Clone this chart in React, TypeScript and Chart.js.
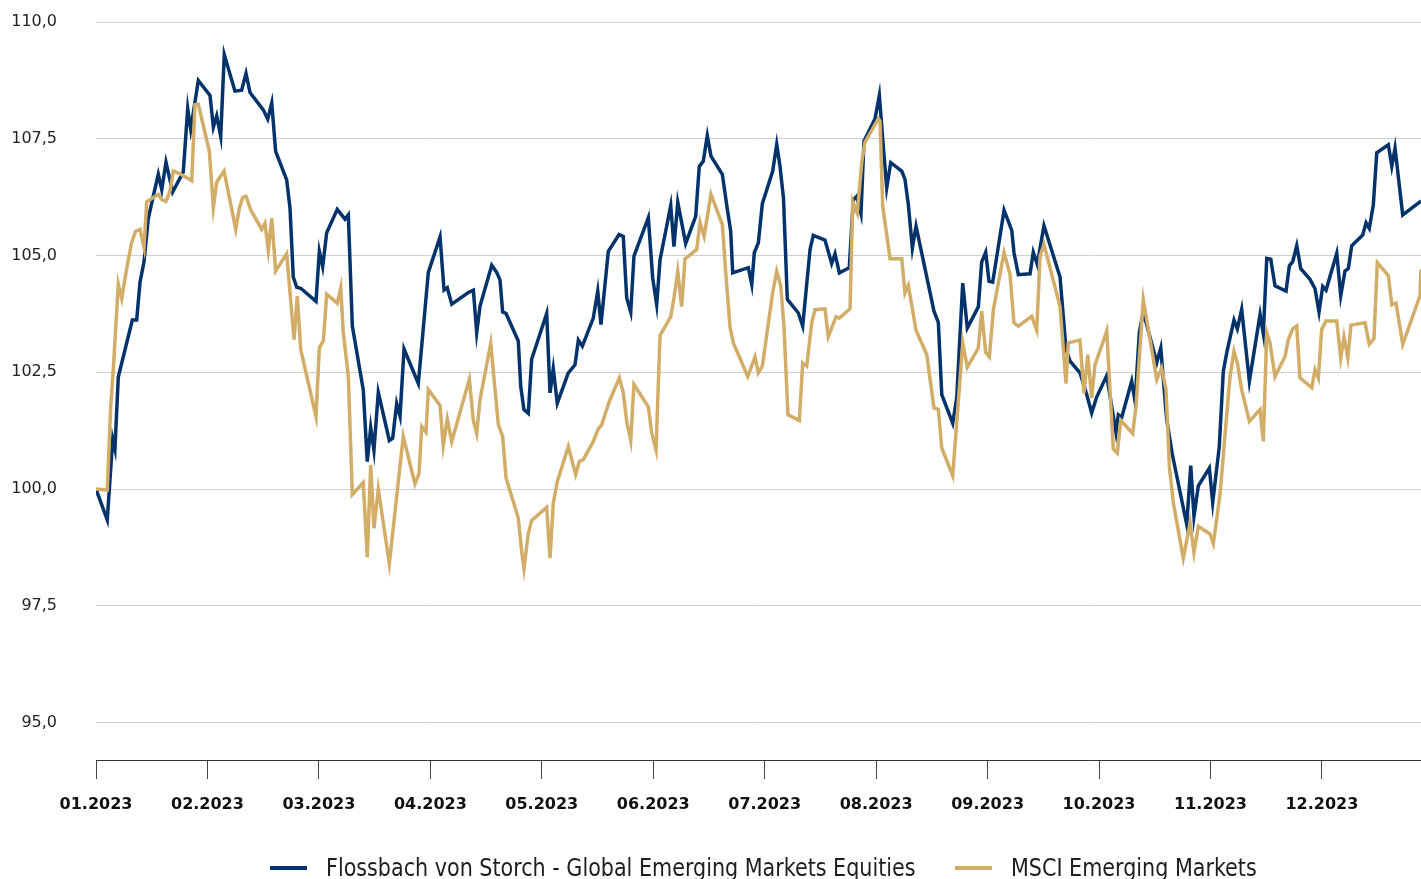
import React, { useEffect, useRef } from 'react';
import { Chart, registerables } from 'chart.js';

Chart.register(...registerables);

const monthLabels = ['01.2023', '02.2023', '03.2023', '04.2023', '05.2023', '06.2023', '07.2023', '08.2023', '09.2023', '10.2023', '11.2023', '12.2023'];
const yTickValues = [95, 97.5, 100, 102.5, 105, 107.5, 110];
const seriesNames = ['Flossbach von Storch - Global Emerging Markets Equities', 'MSCI Emerging Markets'];
const seriesColors = ['#03336a', '#d2ad67'];

// x positions in months since 01.2023
const fundMonths = [
  0, 0.101, 0.150, 0.170, 0.200, 0.326, 0.365, 0.395, 0.431, 0.469,
  0.514, 0.559, 0.590, 0.628, 0.688, 0.783, 0.823, 0.850, 0.918, 1.023,
  1.053, 1.083, 1.119, 1.151, 1.247, 1.307, 1.346, 1.382, 1.501, 1.541,
  1.577, 1.612, 1.711, 1.741, 1.770, 1.801, 1.837, 1.974, 2.004, 2.034,
  2.070, 2.165, 2.234, 2.264, 2.300, 2.398, 2.434, 2.465, 2.494, 2.533,
  2.632, 2.662, 2.698, 2.728, 2.764, 2.892, 2.982, 3.087, 3.123, 3.152,
  3.192, 3.341, 3.386, 3.416, 3.446, 3.551, 3.595, 3.625, 3.649, 3.679,
  3.789, 3.811, 3.840, 3.879, 3.909, 4.044, 4.074, 4.103, 4.139, 4.238,
  4.298, 4.328, 4.364, 4.462, 4.502, 4.531, 4.597, 4.693, 4.731, 4.762,
  4.798, 4.827, 4.956, 4.995, 5.031, 5.061, 5.157, 5.186, 5.220, 5.291,
  5.381, 5.413, 5.449, 5.485, 5.518, 5.620, 5.659, 5.695, 5.713, 5.853,
  5.884, 5.907, 5.943, 5.979, 6.072, 6.108, 6.138, 6.169, 6.203, 6.302,
  6.341, 6.407, 6.436, 6.541, 6.601, 6.631, 6.670, 6.759, 6.795, 6.826,
  6.864, 6.891, 6.990, 7.029, 7.064, 7.095, 7.131, 7.230, 7.259, 7.289,
  7.325, 7.358, 7.519, 7.558, 7.589, 7.687, 7.723, 7.777, 7.818, 7.917,
  7.947, 7.983, 8.013, 8.046, 8.148, 8.217, 8.237, 8.276, 8.381, 8.410,
  8.446, 8.506, 8.650, 8.704, 8.740, 8.829, 8.890, 8.934, 8.979, 9.069,
  9.152, 9.173, 9.204, 9.293, 9.323, 9.362, 9.397, 9.518, 9.554, 9.607,
  9.658, 9.787, 9.823, 9.852, 9.891, 9.990, 10.020, 10.079, 10.115, 10.146,
  10.211, 10.241, 10.280, 10.349, 10.445, 10.474, 10.505, 10.541, 10.579, 10.678,
  10.708, 10.738, 10.774, 10.810, 10.893, 10.938, 10.974, 11.007, 11.037, 11.133,
  11.169, 11.207, 11.237, 11.267, 11.366, 11.396, 11.425, 11.461, 11.492, 11.596,
  11.627, 11.656, 11.725, 11.880, 11.889,
];

const fundValues = [
  100.0, 99.34, 101.07, 100.86, 102.4, 103.62, 103.62, 104.43, 104.87, 105.79,
  106.27, 106.74, 106.41, 107.0, 106.36, 106.79, 108.15, 107.7, 108.75, 108.43,
  107.75, 107.99, 107.55, 109.3, 108.52, 108.54, 108.9, 108.49, 108.12, 107.92,
  108.27, 107.23, 106.62, 106.01, 104.54, 104.32, 104.3, 104.02, 105.09, 104.76,
  105.49, 105.99, 105.78, 105.87, 103.49, 102.13, 100.59, 101.32, 100.83, 102.07,
  101.04, 101.09, 101.83, 101.56, 103.0, 102.26, 104.64, 105.4, 104.26, 104.31,
  103.96, 104.21, 104.26, 103.35, 103.92, 104.79, 104.64, 104.48, 103.79, 103.76,
  103.17, 102.2, 101.7, 101.62, 102.78, 103.76, 102.06, 102.58, 101.84, 102.49,
  102.66, 103.19, 103.06, 103.66, 104.24, 103.52, 105.09, 105.45, 105.41, 104.09,
  103.79, 104.99, 105.81, 104.52, 103.95, 104.91, 106.07, 105.19, 106.14, 105.26,
  105.84, 106.91, 107.02, 107.57, 107.13, 106.74, 106.09, 105.52, 104.63, 104.74,
  104.38, 105.06, 105.27, 106.11, 106.81, 107.38, 106.9, 106.22, 104.06, 103.77,
  103.49, 105.13, 105.43, 105.33, 104.83, 105.04, 104.63, 104.74, 106.19, 106.27,
  105.9, 107.45, 107.93, 108.43, 107.34, 106.45, 106.99, 106.81, 106.63, 106.09,
  105.16, 105.63, 103.81, 103.57, 102.02, 101.41, 101.95, 104.41, 103.45, 103.9,
  104.86, 105.07, 104.45, 104.43, 105.97, 105.54, 105.06, 104.59, 104.61, 105.07,
  104.81, 105.64, 104.54, 102.99, 102.74, 102.49, 102.02, 101.63, 101.97, 102.43,
  101.21, 101.59, 101.54, 102.31, 101.88, 103.36, 103.79, 102.71, 103.02, 101.49,
  100.74, 99.24, 100.5, 99.41, 100.07, 100.45, 99.71, 100.91, 102.52, 102.92,
  103.62, 103.43, 103.85, 102.31, 103.74, 103.33, 104.94, 104.92, 104.35, 104.24,
  104.78, 104.87, 105.21, 104.72, 104.49, 104.29, 103.79, 104.34, 104.26, 105.05,
  104.14, 104.67, 104.72, 105.21, 105.44, 105.7, 105.58, 106.08, 107.2, 107.37,
  106.91, 107.3, 105.87, 106.15, 106.17,
];

const indexMonths = [
  0, 0.101, 0.132, 0.155, 0.200, 0.231, 0.275, 0.320, 0.356, 0.395,
  0.431, 0.455, 0.559, 0.590, 0.628, 0.664, 0.694, 0.754, 0.859, 0.888,
  0.918, 1.017, 1.053, 1.083, 1.149, 1.254, 1.286, 1.316, 1.346, 1.388,
  1.487, 1.516, 1.546, 1.577, 1.612, 1.711, 1.777, 1.806, 1.837, 1.974,
  2.004, 2.040, 2.070, 2.165, 2.196, 2.219, 2.264, 2.300, 2.398, 2.434,
  2.465, 2.494, 2.533, 2.632, 2.757, 2.862, 2.898, 2.923, 2.961, 2.982,
  3.087, 3.116, 3.152, 3.192, 3.350, 3.386, 3.416, 3.446, 3.542, 3.610,
  3.649, 3.679, 3.789, 3.820, 3.840, 3.879, 3.909, 4.044, 4.074, 4.103,
  4.139, 4.238, 4.304, 4.337, 4.373, 4.462, 4.507, 4.538, 4.606, 4.696,
  4.731, 4.762, 4.798, 4.827, 4.956, 4.986, 5.025, 5.061, 5.157, 5.186,
  5.220, 5.255, 5.285, 5.390, 5.420, 5.456, 5.518, 5.620, 5.653, 5.689,
  5.719, 5.848, 5.913, 5.943, 5.979, 6.072, 6.108, 6.144, 6.173, 6.209,
  6.311, 6.341, 6.377, 6.422, 6.452, 6.541, 6.571, 6.640, 6.670, 6.766,
  6.790, 6.831, 6.871, 6.900, 7.020, 7.035, 7.059, 7.125, 7.230, 7.259,
  7.289, 7.358, 7.454, 7.519, 7.558, 7.589, 7.687, 7.723, 7.777, 7.818,
  7.917, 7.947, 7.983, 8.016, 8.052, 8.148, 8.201, 8.237, 8.276, 8.396,
  8.441, 8.471, 8.506, 8.650, 8.704, 8.724, 8.829, 8.865, 8.899, 8.934,
  8.964, 9.069, 9.128, 9.164, 9.195, 9.302, 9.332, 9.397, 9.518, 9.562,
  9.601, 9.631, 9.667, 9.756, 9.817, 9.852, 9.891, 9.996, 10.026, 10.086,
  10.175, 10.211, 10.241, 10.280, 10.349, 10.445, 10.474, 10.505, 10.534, 10.579,
  10.669, 10.699, 10.738, 10.774, 10.803, 10.909, 10.938, 10.968, 10.998, 11.037,
  11.133, 11.169, 11.198, 11.232, 11.261, 11.387, 11.425, 11.467, 11.497, 11.596,
  11.627, 11.665, 11.725, 11.880, 11.889,
];

const indexValues = [
  100.0, 99.98, 101.77, 102.55, 104.39, 104.08, 104.72, 105.28, 105.52, 105.56,
  105.17, 106.15, 106.31, 106.2, 106.16, 106.38, 106.81, 106.75, 106.6, 108.23,
  108.24, 107.23, 106.03, 106.57, 106.81, 105.56, 106.01, 106.24, 106.27, 105.98,
  105.56, 105.69, 105.11, 105.8, 104.67, 105.04, 103.2, 104.13, 102.99, 101.55,
  103.03, 103.17, 104.17, 103.98, 104.31, 103.35, 102.42, 99.88, 100.14, 98.54,
  100.52, 99.16, 100.0, 98.4, 101.13, 100.11, 100.33, 101.34, 101.22, 102.13,
  101.79, 100.93, 101.5, 101.02, 102.35, 101.47, 101.19, 101.92, 103.12, 101.38,
  101.13, 100.24, 99.38, 98.66, 98.3, 99.05, 99.33, 99.61, 98.52, 99.7,
  100.16, 100.91, 100.31, 100.59, 100.63, 101.02, 101.29, 101.38, 101.88, 102.38,
  102.06, 101.45, 101.04, 102.24, 101.76, 101.2, 100.84, 103.29, 103.69, 104.09,
  104.66, 103.91, 104.93, 105.13, 105.71, 105.41, 106.31, 105.66, 104.56, 103.47,
  103.13, 102.41, 102.83, 102.49, 102.63, 104.21, 104.66, 104.35, 103.5, 101.59,
  101.47, 102.7, 102.63, 103.56, 103.84, 103.86, 103.26, 103.69, 103.66, 103.86,
  106.16, 105.91, 106.99, 107.43, 107.93, 107.88, 106.06, 104.93, 104.93, 104.2,
  104.36, 103.4, 102.88, 101.74, 101.71, 100.88, 100.29, 101.41, 103.13, 102.61,
  103.02, 103.81, 102.93, 102.83, 103.84, 105.07, 104.6, 103.56, 103.49, 103.7,
  103.4, 104.99, 105.24, 103.91, 102.26, 103.13, 103.19, 102.06, 102.88, 101.95,
  102.66, 103.38, 100.86, 100.77, 101.47, 101.19, 101.77, 104.06, 102.34, 102.59,
  102.13, 100.49, 99.7, 98.52, 99.27, 98.64, 99.2, 99.04, 98.83, 99.9,
  102.4, 102.95, 102.7, 102.13, 101.45, 101.7, 101.02, 103.35, 103.13, 102.41,
  102.84, 103.2, 103.43, 103.49, 102.38, 102.17, 102.56, 102.38, 103.42, 103.6,
  103.6, 102.81, 103.26, 102.81, 103.51, 103.56, 103.1, 103.22, 104.85, 104.57,
  103.94, 103.98, 103.1, 104.14, 104.7,
];

const X_MAX = 11.889;
const Y_MIN = 94.2;
const Y_MAX = 110;

const toPoints = (xs: number[], ys: number[]) => xs.map((x, i) => ({ x, y: ys[i] }));

const legendLeft = [270, 955];

export default function App() {
  const canvasRef = useRef<HTMLCanvasElement | null>(null);

  useEffect(() => {
    const canvas = canvasRef.current;
    if (!canvas) return;
    const chart = new Chart(canvas, {
      type: 'line',
      data: {
        datasets: [
          {
            label: seriesNames[0],
            data: toPoints(fundMonths, fundValues),
            borderColor: seriesColors[0],
            backgroundColor: seriesColors[0],
            borderWidth: 3.5,
            pointRadius: 0,
            tension: 0,
            order: 2,
          },
          {
            label: seriesNames[1],
            data: toPoints(indexMonths, indexValues),
            borderColor: seriesColors[1],
            backgroundColor: seriesColors[1],
            borderWidth: 3.5,
            pointRadius: 0,
            tension: 0,
            order: 1,
          },
        ],
      },
      options: {
        responsive: false,
        animation: false,
        devicePixelRatio: 1,
        layout: { padding: { top: 22, left: 0, right: 0, bottom: 0 } },
        plugins: {
          legend: { display: false },
          tooltip: { enabled: false },
        },
        scales: {
          x: {
            type: 'linear',
            min: 0,
            max: X_MAX,
            afterBuildTicks: (scale: any) => {
              scale.ticks = monthLabels.map((_, i) => ({ value: i }));
            },
            afterFit: (scale: any) => {
              scale.height = 119;
              scale.paddingLeft = 0;
              scale.paddingRight = 0;
            },
            ticks: {
              autoSkip: false,
              maxRotation: 0,
              padding: 16,
              color: '#111',
              font: { family: '"DejaVu Sans", sans-serif', size: 16, weight: 'bold' },
              callback: (_v: any, i: number) => monthLabels[i],
            },
            grid: {
              drawOnChartArea: false,
              drawTicks: true,
              tickLength: 19,
              tickColor: '#444',
              lineWidth: 1,
            },
            border: { display: true, color: '#333', width: 1 },
          },
          y: {
            type: 'linear',
            min: Y_MIN,
            max: Y_MAX,
            afterBuildTicks: (scale: any) => {
              scale.ticks = yTickValues.map((v) => ({ value: v }));
            },
            afterFit: (scale: any) => {
              scale.width = 96;
              scale.paddingTop = 10;
              scale.paddingBottom = 10;
            },
            ticks: {
              padding: 39,
              color: '#222',
              font: { family: '"DejaVu Sans", sans-serif', size: 16 },
              callback: (v: any) => Number(v).toFixed(1).replace('.', ','),
            },
            grid: {
              color: '#cfcfcf',
              lineWidth: 1,
              drawTicks: false,
            },
            border: { display: false },
          },
        },
      },
    });
    return () => chart.destroy();
  }, []);

  return (
    <div style={{ position: 'fixed', left: 0, top: 0, width: 1421, height: 879, overflow: 'hidden', background: '#fff' }}>
      <canvas ref={canvasRef} width={1421} height={879} style={{ display: 'block', width: 1421, height: 879 }} />
      {seriesNames.map((name, i) => (
        <div
          key={name}
          style={{
            position: 'absolute',
            left: legendLeft[i],
            top: 853,
            height: 30,
            display: 'flex',
            alignItems: 'center',
            fontFamily: '"DejaVu Sans Condensed", "DejaVu Sans", sans-serif',
            fontStretch: 'condensed',
            fontSize: 25,
            lineHeight: '30px',
            color: '#1e1e1e',
            whiteSpace: 'nowrap',
          }}
        >
          <span style={{ display: 'inline-block', width: 37, height: 4, background: seriesColors[i], marginRight: 19 }} />
          <span style={{ display: 'inline-block', transform: 'scaleX(0.92)', transformOrigin: 'left center' }}>{name}</span>
        </div>
      ))}
    </div>
  );
}
